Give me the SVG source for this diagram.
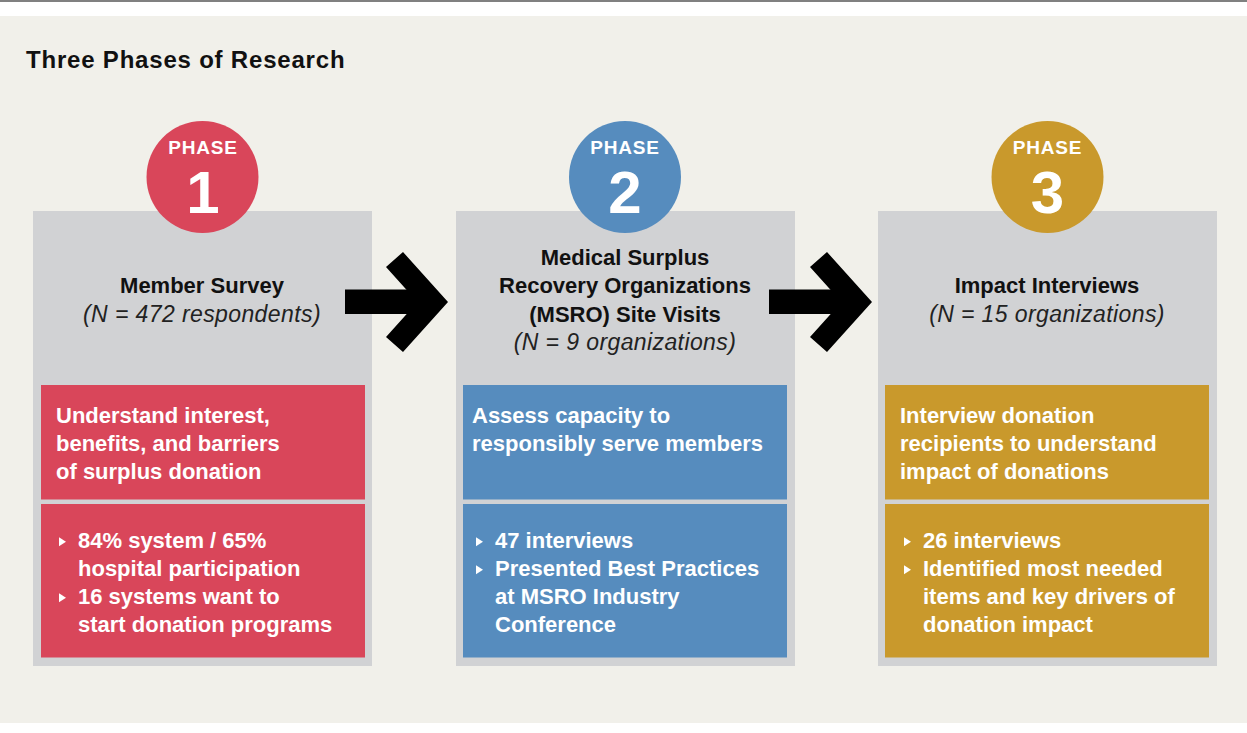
<svg xmlns="http://www.w3.org/2000/svg" width="1247" height="733" viewBox="0 0 1247 733">
<style>
.bg{fill:#f1f0ea}
.card{fill:#d1d2d4}
.red{fill:#d9465a}
.blue{fill:#568cbe}
.gold{fill:#c9992c}
.title{font-family:"Liberation Sans",Arial,sans-serif;font-weight:bold;font-size:24px;fill:#111;letter-spacing:0.8px}
.phase{font-family:"Liberation Sans",Arial,sans-serif;font-weight:bold;font-size:19px;fill:#fff;text-anchor:middle;letter-spacing:0.8px}
.num{font-family:"Liberation Sans",Arial,sans-serif;font-weight:bold;font-size:60px;fill:#fff;text-anchor:middle}
.head{font-family:"Liberation Sans",Arial,sans-serif;font-weight:bold;font-size:22px;fill:#111;text-anchor:middle}
.sub{font-family:"Liberation Sans",Arial,sans-serif;font-style:italic;font-size:23px;fill:#222;text-anchor:middle;letter-spacing:0.4px}
.wt{font-family:"Liberation Sans",Arial,sans-serif;font-weight:bold;font-size:22px;fill:#fff}
.arrow{fill:#000}
</style>
<defs>
<polygon id="bul" points="0,-4.5 7,0 0,4.5" fill="#fff"/>
<g id="arr">
<rect x="0" y="289.5" width="80" height="24.5"/>
<polygon points="58,252 103,302 58,352 41,337 72.5,302 41,267"/>
</g>
</defs>
<rect x="0" y="0" width="1247" height="733" fill="#fff"/>
<rect x="0" y="0" width="1247" height="2" fill="#808080"/>
<rect class="bg" x="0" y="16" width="1247" height="707"/>
<text class="title" x="26" y="68">Three Phases of Research</text>

<g id="phase1">
<rect class="card" x="33" y="211" width="339" height="455"/>
<circle class="red" cx="202.5" cy="177" r="56"/>
<text class="phase" x="203" y="154">PHASE</text>
<text class="num" x="203" y="213">1</text>
<text class="head" x="202" y="292.5">Member Survey</text>
<text class="sub" x="202" y="321.5">(N = 472 respondents)</text>
<rect class="red" x="41" y="385" width="324" height="114.5"/>
<rect class="red" x="41" y="504" width="324" height="153.5"/>
<text class="wt" x="56" y="423">Understand interest,</text>
<text class="wt" x="56" y="451">benefits, and barriers</text>
<text class="wt" x="56" y="479">of surplus donation</text>
<use href="#bul" x="59" y="541.7"/>
<use href="#bul" x="59" y="597.7"/>
<text class="wt" x="78" y="548">84% system / 65%</text>
<text class="wt" x="78" y="576">hospital participation</text>
<text class="wt" x="78" y="604">16 systems want to</text>
<text class="wt" x="78" y="632">start donation programs</text>
</g>

<g id="phase2">
<rect class="card" x="456" y="211" width="339" height="455"/>
<circle class="blue" cx="625" cy="177" r="56"/>
<text class="phase" x="625" y="154">PHASE</text>
<text class="num" x="625" y="213">2</text>
<text class="head" x="625" y="264.5">Medical Surplus</text>
<text class="head" x="625" y="293">Recovery Organizations</text>
<text class="head" x="625" y="321.5">(MSRO) Site Visits</text>
<text class="sub" x="625" y="350">(N = 9 organizations)</text>
<rect class="blue" x="463" y="385" width="324" height="114.5"/>
<rect class="blue" x="463" y="504" width="324" height="153.5"/>
<text class="wt" x="472" y="423">Assess capacity to</text>
<text class="wt" x="472" y="451">responsibly serve members</text>
<use href="#bul" x="476" y="541.7"/>
<use href="#bul" x="476" y="569.7"/>
<text class="wt" x="495" y="548">47 interviews</text>
<text class="wt" x="495" y="576">Presented Best Practices</text>
<text class="wt" x="495" y="604">at MSRO Industry</text>
<text class="wt" x="495" y="632">Conference</text>
</g>

<g id="phase3">
<rect class="card" x="878" y="211" width="339" height="455"/>
<circle class="gold" cx="1047.5" cy="177" r="56"/>
<text class="phase" x="1047.5" y="154">PHASE</text>
<text class="num" x="1047.5" y="213">3</text>
<text class="head" x="1047" y="292.5">Impact Interviews</text>
<text class="sub" x="1047" y="321.5">(N = 15 organizations)</text>
<rect class="gold" x="885" y="385" width="324" height="114.5"/>
<rect class="gold" x="885" y="504" width="324" height="153.5"/>
<text class="wt" x="900" y="423">Interview donation</text>
<text class="wt" x="900" y="451">recipients to understand</text>
<text class="wt" x="900" y="479">impact of donations</text>
<use href="#bul" x="904" y="541.7"/>
<use href="#bul" x="904" y="569.7"/>
<text class="wt" x="923" y="548">26 interviews</text>
<text class="wt" x="923" y="576">Identified most needed</text>
<text class="wt" x="923" y="604">items and key drivers of</text>
<text class="wt" x="923" y="632">donation impact</text>
</g>

<g id="connectors" class="arrow">
<use href="#arr" x="345" y="0"/>
<use href="#arr" x="769" y="0"/>
</g>
</svg>
